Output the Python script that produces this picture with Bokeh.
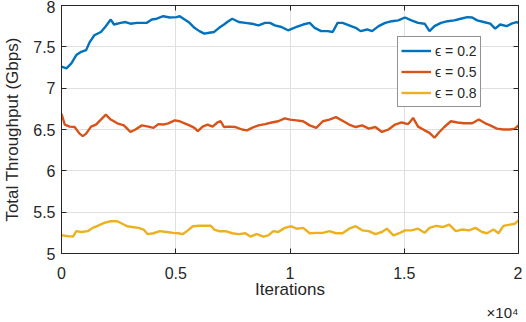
from bokeh.plotting import figure
from bokeh.models import (Range1d, FixedTicker, LinearAxis, Legend, LegendItem,
                          Title, CustomLabelingPolicy)
from bokeh.embed import file_html
from bokeh.resources import INLINE

# ---------------- data ----------------
x_ticks = [0, 5000, 10000, 15000, 20000]
x_tick_labels = ["0", "0.5", "1", "1.5", "2"]
x_exponent = "\u00d710\u2074"
y_ticks = [5, 5.5, 6, 6.5, 7, 7.5, 8]
y_tick_labels = ["5", "5.5", "6", "6.5", "7", "7.5", "8"]

series_names = ["\u03f5 = 0.2", "\u03f5 = 0.5", "\u03f5 = 0.8"]

blue_x = [0, 216, 431, 647, 862, 1078, 1221, 1437, 1724, 1940,
          2155, 2299, 2586, 2802, 3017, 3305, 3520, 3736, 3951, 4167,
          4454, 4741, 5029, 5172, 5388, 5603, 5819, 6035, 6250, 6466,
          6681, 6897, 7112, 7256, 7471, 7759, 8046, 8333, 8621, 8908,
          9124, 9339, 9626, 9914, 10287, 10575, 10862, 11078, 11365, 11652,
          11868, 12083, 12299, 12586, 12874, 13089, 13376, 13592, 13879, 14167,
          14454, 14741, 15029, 15316, 15604, 15891, 16106, 16322, 16609, 16897,
          17184, 17471, 17759, 17974, 18190, 18477, 18764, 18980, 19196, 19483,
          19698, 19914, 20000]
blue_y = [7.26, 7.24, 7.30, 7.40, 7.44, 7.46, 7.55, 7.64, 7.68, 7.75,
          7.83, 7.77, 7.79, 7.80, 7.78, 7.79, 7.79, 7.79, 7.83, 7.84,
          7.87, 7.855, 7.86, 7.87, 7.83, 7.79, 7.73, 7.69, 7.66, 7.67,
          7.68, 7.73, 7.77, 7.80, 7.84, 7.80, 7.79, 7.78, 7.76, 7.79,
          7.79, 7.76, 7.74, 7.70, 7.74, 7.77, 7.79, 7.73, 7.69, 7.69,
          7.68, 7.79, 7.79, 7.76, 7.73, 7.69, 7.71, 7.69, 7.75, 7.79,
          7.81, 7.82, 7.855, 7.82, 7.79, 7.78, 7.69, 7.75, 7.79, 7.81,
          7.82, 7.84, 7.86, 7.855, 7.82, 7.80, 7.78, 7.72, 7.77, 7.75,
          7.78, 7.80, 7.79]

orange_x = [0, 144, 359, 575, 790, 934, 1078, 1293, 1509, 1724,
            1940, 2155, 2443, 2730, 2874, 3017, 3233, 3520, 3808, 4023,
            4239, 4454, 4670, 4957, 5172, 5388, 5603, 5819, 5963, 6178,
            6394, 6609, 6825, 6968, 7112, 7328, 7615, 7902, 8118, 8333,
            8621, 8908, 9196, 9483, 9770, 10000, 10287, 10575, 10862, 11149,
            11437, 11724, 12012, 12299, 12586, 12874, 13161, 13448, 13736, 14023,
            14310, 14598, 14885, 15172, 15388, 15604, 15891, 16106, 16322, 16537,
            16753, 17040, 17328, 17615, 17974, 18262, 18549, 18764, 19052, 19339,
            19626, 19842, 20000]
orange_y = [6.69, 6.56, 6.535, 6.53, 6.45, 6.42, 6.45, 6.535, 6.56, 6.62,
            6.68, 6.62, 6.575, 6.55, 6.51, 6.47, 6.50, 6.55, 6.535, 6.52,
            6.565, 6.56, 6.575, 6.61, 6.60, 6.575, 6.55, 6.52, 6.48, 6.535,
            6.56, 6.535, 6.585, 6.60, 6.53, 6.535, 6.53, 6.50, 6.49, 6.52,
            6.55, 6.565, 6.585, 6.60, 6.635, 6.62, 6.61, 6.60, 6.55, 6.52,
            6.60, 6.62, 6.65, 6.605, 6.56, 6.53, 6.55, 6.51, 6.53, 6.47,
            6.50, 6.56, 6.585, 6.565, 6.64, 6.535, 6.49, 6.46, 6.40, 6.47,
            6.53, 6.60, 6.585, 6.575, 6.575, 6.62, 6.575, 6.55, 6.51, 6.50,
            6.50, 6.51, 6.55]

yellow_x = [0, 287, 503, 647, 862, 1149, 1365, 1580, 1868, 2155,
            2443, 2658, 2874, 3089, 3376, 3592, 3764, 4023, 4310, 4598,
            4885, 5101, 5316, 5532, 5747, 6035, 6322, 6537, 6681, 6897,
            7184, 7471, 7759, 8046, 8262, 8549, 8836, 9052, 9267, 9483,
            9770, 10058, 10287, 10575, 10862, 11149, 11437, 11724, 12012, 12299,
            12586, 12874, 13161, 13448, 13736, 14023, 14239, 14526, 14813, 15029,
            15316, 15604, 15891, 16106, 16394, 16681, 16968, 17256, 17543, 17831,
            18118, 18405, 18621, 18908, 19124, 19339, 19626, 19842, 20000]
yellow_y = [5.22, 5.21, 5.205, 5.27, 5.26, 5.27, 5.31, 5.335, 5.37, 5.39,
            5.39, 5.36, 5.33, 5.32, 5.31, 5.29, 5.235, 5.245, 5.27, 5.26,
            5.25, 5.245, 5.235, 5.28, 5.33, 5.335, 5.335, 5.335, 5.29, 5.27,
            5.27, 5.245, 5.235, 5.245, 5.205, 5.235, 5.205, 5.22, 5.27, 5.26,
            5.31, 5.33, 5.30, 5.31, 5.245, 5.25, 5.25, 5.27, 5.245, 5.245,
            5.30, 5.33, 5.28, 5.27, 5.235, 5.26, 5.30, 5.22, 5.25, 5.28,
            5.28, 5.30, 5.25, 5.31, 5.335, 5.32, 5.35, 5.27, 5.29, 5.28,
            5.31, 5.26, 5.245, 5.29, 5.245, 5.335, 5.35, 5.36, 5.40]

assert len(blue_x) == len(blue_y)
assert len(orange_x) == len(orange_y)
assert len(yellow_x) == len(yellow_y)

# ---------------- styling ----------------
FONT = "Liberation Sans"
AX = "#262626"
GRID = "#e0e0e0"
colors = ["#0072BD", "#D95319", "#EDB120"]

p = figure(width=522, height=320, output_backend="svg", toolbar_location=None,
           x_range=Range1d(0, 20000), y_range=Range1d(5, 8),
           min_border_left=50, min_border_right=4, min_border_top=5,
           min_border_bottom=10)
p.background_fill_color = "white"
p.border_fill_color = "white"
p.outline_line_color = AX
p.outline_line_width = 1

xt = FixedTicker(ticks=x_ticks)
yt = FixedTicker(ticks=y_ticks)

def style_axis(ax, ticker, labels=None):
    ax.ticker = ticker
    ax.axis_line_color = AX
    ax.axis_line_width = 1
    ax.major_tick_line_color = AX
    ax.major_tick_in = 5
    ax.major_tick_out = 0
    ax.minor_tick_line_color = None
    ax.major_label_text_font = FONT
    ax.major_label_text_color = AX
    ax.axis_label_text_font = FONT
    ax.axis_label_text_color = AX
    ax.axis_label_text_font_style = "normal"
    if labels is not None:
        ax.major_label_overrides = labels
        ax.major_label_text_font_size = "16px"
    else:
        # box-style mirror axis: ticks only
        ax.major_label_text_font_size = "0px"
        ax.major_label_policy = CustomLabelingPolicy(code="return []")
        ax.major_label_standoff = 0
        ax.axis_label_standoff = 0

style_axis(p.xaxis[0], xt, dict(zip(x_ticks, x_tick_labels)))
style_axis(p.yaxis[0], yt, dict(zip(y_ticks, y_tick_labels)))
p.xaxis[0].axis_label = "Iterations"
p.xaxis[0].axis_label_text_font_size = "17px"
p.xaxis[0].major_label_standoff = 13
p.xaxis[0].axis_label_standoff = -2
p.yaxis[0].axis_label = "Total Throughput (Gbps)"
p.yaxis[0].axis_label_text_font_size = "17px"
p.yaxis[0].major_label_standoff = 6
p.yaxis[0].axis_label_standoff = 8

top_ax = LinearAxis()
style_axis(top_ax, xt)
p.add_layout(top_ax, "above")
right_ax = LinearAxis()
style_axis(right_ax, yt)
p.add_layout(right_ax, "right")

p.xgrid.ticker = xt
p.ygrid.ticker = yt
p.xgrid.grid_line_color = GRID
p.ygrid.grid_line_color = GRID

renderers = []
for xs, ys, c in [(blue_x, blue_y, colors[0]), (orange_x, orange_y, colors[1]),
                  (yellow_x, yellow_y, colors[2])]:
    r = p.line(xs, ys, line_color=c, line_width=2.4)
    renderers.append(r)

legend = Legend(items=[LegendItem(label=n, renderers=[r]) for n, r in zip(series_names, renderers)],
                location=(336, 146))
legend.label_text_font = FONT
legend.label_text_font_size = "14px"
legend.label_text_color = AX
legend.glyph_width = 30
legend.glyph_height = 21
legend.label_height = 21
legend.label_standoff = 4
legend.spacing = 0
legend.padding = 3
legend.margin = 0
legend.border_line_color = AX
legend.border_line_width = 1
legend.background_fill_color = "white"
legend.background_fill_alpha = 1
p.add_layout(legend)

# x10^4 exponent below the x axis, at its right end
exp_title = Title(text=x_exponent, align="right", text_font=FONT,
                  text_font_size="15px", text_color=AX, text_font_style="normal",
                  standoff=0, offset=0)
p.add_layout(exp_title, "below")

open("out.html", "w").write(file_html(p, INLINE))
